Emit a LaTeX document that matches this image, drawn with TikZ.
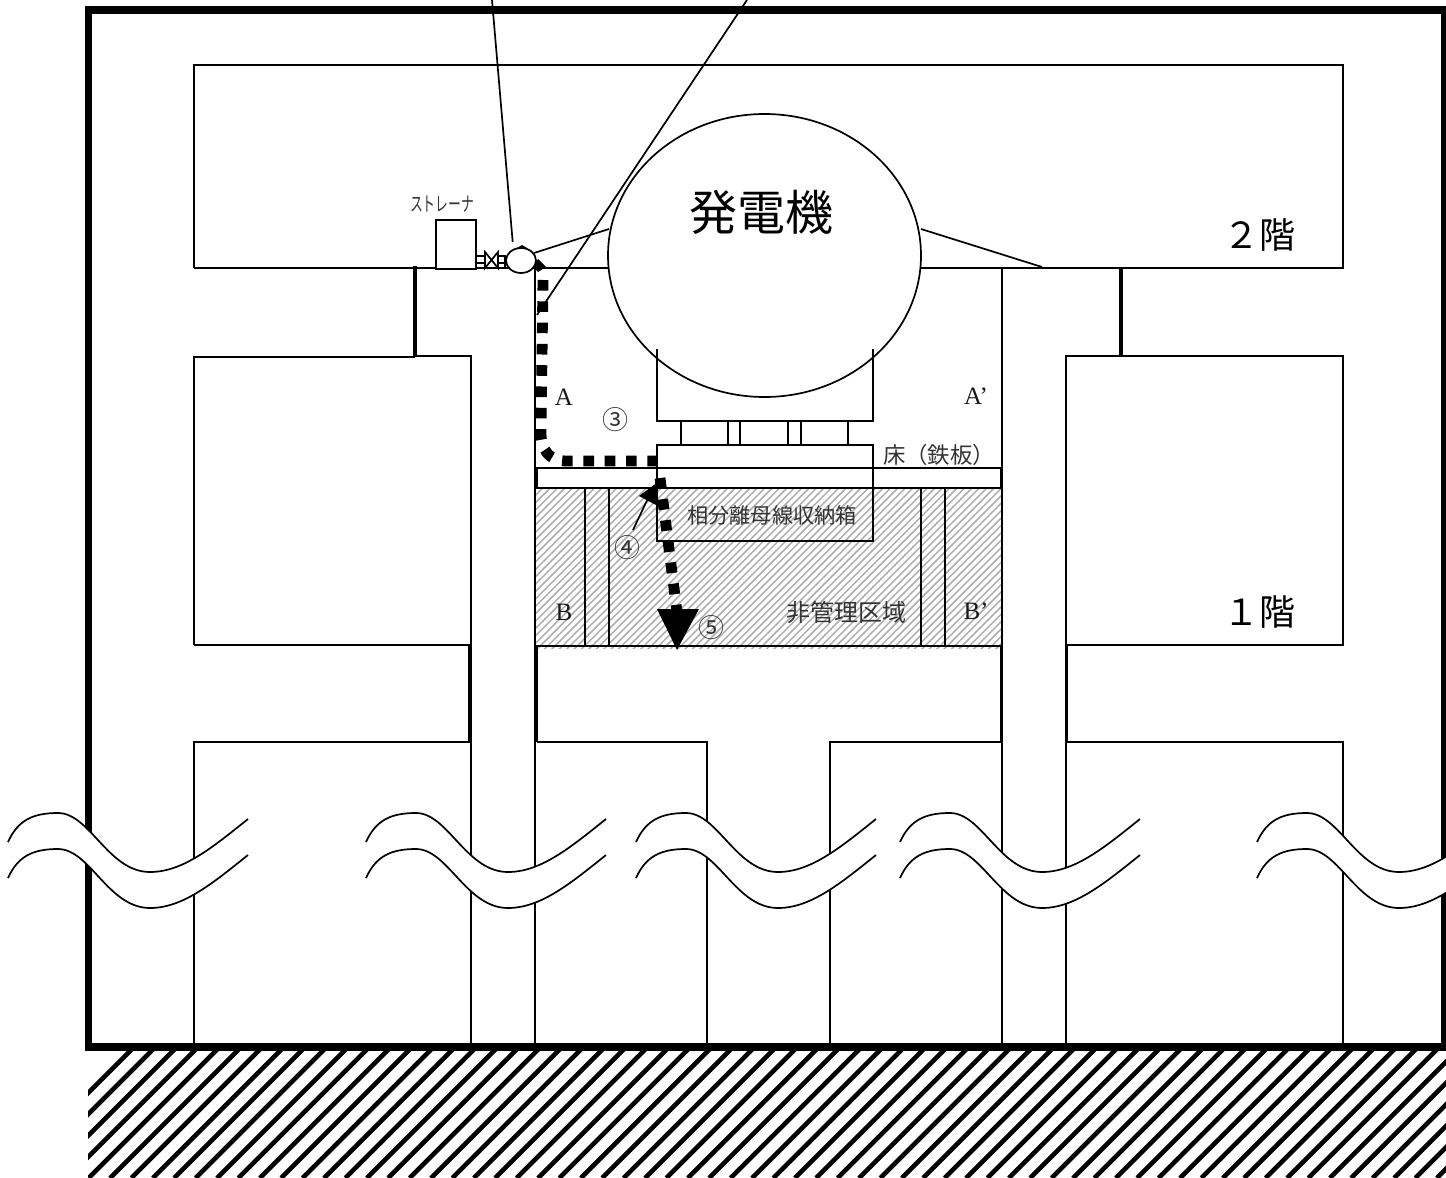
\documentclass[tikz,border=0pt]{standalone}
\usepackage{fontspec}
\usepackage{graphicx}
\newfontfamily\jpfont{Noto Sans CJK JP}
\setmainfont{Liberation Serif}
\usetikzlibrary{shapes.geometric}
\newcommand{\jp}[1]{\jpfont\fontsize{#1}{#1}\selectfont}
\tikzset{
  wall/.style={draw=black,line width=0.85pt},
  dblwall/.style={draw=black,line width=1.7pt},
  frame/.style={draw=black,line width=3.9pt,miter limit=10},
  flowdash/.style={draw=black,line width=5.4pt,dash pattern=on 5.3pt off 5.35pt},
  jlabel/.style={inner sep=0pt,text=black!80},
  latinlabel/.style={inner sep=0pt,font=\fontsize{12.5}{13}\selectfont,text=black!90},
}
\begin{document}
\begin{tikzpicture}[x=0.5pt,y=-0.5pt]
\useasboundingbox (0,0) rectangle (1446,1178);
\clip (0,0) rectangle (1446,1178);
% ground hatch
\begin{scope}
  \clip (88,1051) rectangle (1446,1178);
  \foreach \k in {0,...,75}
    \draw[line width=2.3pt] ({3+21.4*\k},1178) -- ++(135,-135);
\end{scope}
% non-controlled area hatch
\begin{scope}
  \clip (536,488) rectangle (1001,648);
  \foreach \k in {0,...,90}
    \draw[line width=0.75pt,black!32] ({366+7.4*\k},650) -- ++(170,-170);
\end{scope}
% outer frame
\draw[frame] (88.5,10) rectangle (1445,1047);
% structure
\draw[wall] (194,268) -- (194,65) -- (1343,65) -- (1343,268) -- (1122,268);
\draw[wall] (194,268) -- (414,268);
\draw[wall] (415,268) -- (609,268);
\draw[dblwall] (415,266) -- (415,357);
\draw[wall] (194,645) -- (194,357) -- (415,357);
\draw[wall] (415,356) -- (471,356) -- (471,1046);
\draw[wall] (194,645) -- (470,645);
\draw[dblwall] (470,645) -- (470,742);
\draw[wall] (470,742) -- (194,742) -- (194,1046);
\draw[wall] (535,268) -- (535,1046);
\draw[wall] (537,645) -- (537,742);
\draw[wall] (537,646) -- (1001,646);
\draw[wall] (1001,646) -- (1001,742);
\draw[wall] (537,742) -- (707,742) -- (707,1046);
\draw[wall] (830,1046) -- (830,742) -- (1001,742);
\draw[wall] (921,268) -- (1002,268);
\draw[wall] (1002,267.5) -- (1002,1046);
\draw[wall] (1002,268) -- (1121,268);
\draw[dblwall] (1121,267) -- (1121,356);
\draw[wall] (1066,1046) -- (1066,356) -- (1121,356);
\draw[wall] (1121,356) -- (1343,356) -- (1343,645) -- (1067,645) -- (1067,742) -- (1343,742) -- (1343,1046);
\draw[wall] (1067,645) -- (1067,742);
% partitions in hatch area
\draw[wall] (585,488) -- (585,645);
\draw[wall] (609,488) -- (609,645);
\draw[wall] (921,488) -- (921,645);
\draw[wall] (945,488) -- (945,645);
% generator
\coordinate (legL) at (609,229);
\coordinate (legR) at (921,229);
\coordinate (legRfoot) at (1042,267);
\coordinate (legLfoot) at (534,253);
\draw[wall] (legL) -- (legLfoot);
\draw[wall] (legR) -- (legRfoot);
\node (gen) at (764.5,255.5) [ellipse,draw=black,line width=0.85pt,fill=white,inner sep=0pt,minimum width=156.5pt,minimum height=141.5pt] {};
\draw[wall] (657,349) -- (657,421) -- (873,421) -- (873,349);
\draw[wall] (681,421) rectangle (728,445);
\draw[wall] (740,421) rectangle (788,445);
\draw[wall] (801,421) rectangle (848,445);
\draw[wall] (657,445) rectangle (873,541);
\draw[wall] (537,468) rectangle (1001,488);
% strainer, valve, pump
\node (strainer) at (456,244.5) [draw=black,line width=0.85pt,inner sep=0pt,minimum width=20pt,minimum height=24.5pt,fill=white] {};
\draw[wall] (476,256) -- (485,256) (476,263) -- (485,263) (476,268) -- (485,268);
\draw[wall] (485,252) -- (498,268) -- (498,252) -- (485,268) -- cycle;
\draw[wall] (498,256) -- (506,256) (498,263) -- (506,263) (498,268) -- (506,268) (505,256) -- (505,268);
\node (pump) at (521,260.5) [ellipse,draw=black,line width=0.85pt,fill=white,inner sep=0pt,minimum width=15pt,minimum height=12.5pt] {};
\fill (517,248) -- (522,245) -- (527,248) -- cycle;
\fill (538,259) -- (546,267) -- (538,272) -- (533,267) -- cycle;
% leaders
\coordinate (leadA) at (492,0);
\coordinate (leadAend) at (512.7,242);
\coordinate (leadB) at (747,0);
\coordinate (leadBend) at (537,315);
\draw[wall] (leadA) -- (leadAend);
\draw[wall] (leadB) -- (leadBend);
% flow path
\coordinate (fa) at (543,280);
\coordinate (fb) at (541,433);
\coordinate (fc) at (565,461);
\coordinate (fd) at (660,461);
\coordinate (fe) at (660,478);
\coordinate (ff) at (677,612);
\draw[flowdash] (fa) -- (fb) .. controls (541,450) and (550,461) .. (fc) -- (fd);
\draw[flowdash] (fe) -- (ff);
\coordinate (tipA) at (657,609);
\coordinate (tipB) at (699,609);
\coordinate (tipC) at (677,650);
\fill (tipA) -- (tipB) -- (tipC) -- cycle;
% arrow 4
\coordinate (n4from) at (633,530);
\coordinate (n4to) at (650,494);
\draw[wall] (n4from) -- (n4to);
\fill (639,496) -- (658,482) -- (656,505) -- cycle;
% wave breaks
\foreach \sx in {8,366,636,900,1257} {
  \begin{scope}[shift={(\sx,842)}]
    \fill[white] (0,0) .. controls (10,-22) and (25,-29) .. (50,-29)
      .. controls (82,-29) and (100,30) .. (142,30)
      .. controls (175,30) and (205,5) .. (240,-23)
      -- (240,13) .. controls (205,41) and (175,66) .. (142,66)
      .. controls (100,66) and (82,7) .. (50,7)
      .. controls (25,7) and (10,14) .. (0,36) -- cycle;
    \draw[wall] (0,0) .. controls (10,-22) and (25,-29) .. (50,-29)
      .. controls (82,-29) and (100,30) .. (142,30)
      .. controls (175,30) and (205,5) .. (240,-23);
    \draw[wall] (0,36) .. controls (10,14) and (25,7) .. (50,7)
      .. controls (82,7) and (100,66) .. (142,66)
      .. controls (175,66) and (205,41) .. (240,13);
  \end{scope}
}
% labels
\node (tGen) at (761,212) [inner sep=0pt,text=black] {\jp{24}発電機};
\node (t2F) at (1259,235) [inner sep=0pt,text=black] {\jp{18}２階};
\node (t1F) at (1259,612) [inner sep=0pt,text=black] {\jp{18}１階};
\node (tStr) at (442,204) [jlabel] {\scalebox{0.64}[1]{\jp{10}ストレーナ}};
\node (tFloor) at (939,455) [jlabel] {\jp{11.2}床（鉄板）};
\node (tBox) at (772,515) [jlabel] {\jp{10.6}相分離母線収納箱};
\node (tArea) at (846,612) [jlabel] {\jp{12}非管理区域};
\node (tA) at (564,397) [latinlabel] {A};
\node (tAp) at (976,396) [latinlabel] {A’};
\node (tB) at (564,612) [latinlabel] {B};
\node (tBp) at (976,611) [latinlabel] {B’};
\node (t3) at (615,420) [jlabel] {\jp{13}③};
\node (t4) at (627,548) [jlabel] {\jp{13}④};
\node (t5) at (711,628) [jlabel] {\jp{13}⑤};
\end{tikzpicture}
\end{document}
